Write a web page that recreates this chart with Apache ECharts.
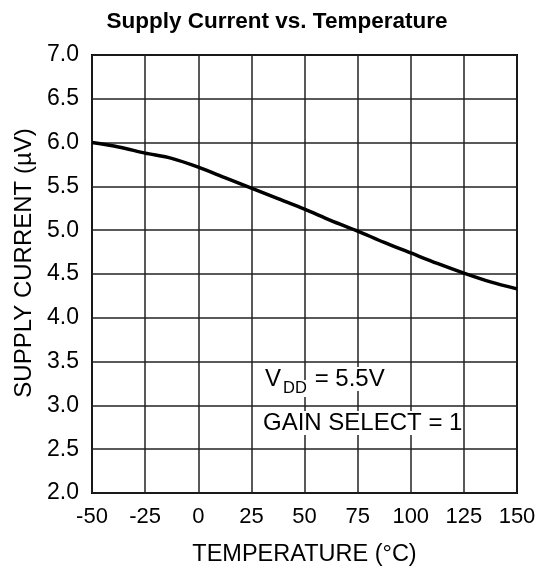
<!DOCTYPE html>
<html>
<head>
<meta charset="utf-8">
<script src="https://cdn.jsdelivr.net/npm/echarts@6/dist/echarts.min.js"></script>
<style>html,body{margin:0;padding:0;background:#fff;}#c{width:543px;height:572px;}</style>
</head>
<body>
<div id="c"></div>
<script>
var temperatures = [-50, -37.5, -25, -12.5, 0, 12.5, 25, 37.5, 50, 62.5, 75, 87.5, 100, 112.5, 125, 137.5, 150];
var supplyCurrent = [6.00, 5.95, 5.88, 5.82, 5.72, 5.60, 5.48, 5.36, 5.24, 5.11, 4.99, 4.86, 4.74, 4.62, 4.51, 4.41, 4.33];
var xTicks = [-50, -25, 0, 25, 50, 75, 100, 125, 150];
var yTicks = [2.0, 2.5, 3.0, 3.5, 4.0, 4.5, 5.0, 5.5, 6.0, 6.5, 7.0];

var FONT = '"Liberation Sans", Arial, sans-serif';
var chart = echarts.init(document.getElementById('c'));
var pts = temperatures.map(function (t, i) { return [t, supplyCurrent[i]]; });

chart.setOption({
  animation: false,
  backgroundColor: '#fff',
  title: {
    text: 'Supply Current vs. Temperature',
    left: 272, top: 5, textAlign: 'center',
    textStyle: { fontFamily: FONT, fontWeight: 'bold', fontSize: 22.5, color: '#000' }
  },
  grid: { left: 92, right: 26, top: 55, bottom: 78, show: true, borderColor: '#000', borderWidth: 2, backgroundColor: 'transparent' },
  xAxis: {
    type: 'value', min: xTicks[0], max: xTicks[xTicks.length - 1], interval: 25,
    name: 'TEMPERATURE (°C)', nameLocation: 'middle', nameGap: 50,
    nameTextStyle: { fontFamily: FONT, fontSize: 23.5, color: '#000' },
    axisLine: { show: false }, axisTick: { show: false },
    axisLabel: { fontFamily: FONT, fontSize: 22, color: '#000', margin: 13 },
    splitLine: { show: true, lineStyle: { color: '#222', width: 1.5 } }
  },
  yAxis: {
    type: 'value', min: yTicks[0], max: yTicks[yTicks.length - 1], interval: 0.5,
    name: 'SUPPLY CURRENT (µV)', nameLocation: 'middle', nameGap: 56, nameRotate: 90,
    nameTextStyle: { fontFamily: FONT, fontSize: 24, color: '#000', padding: [0, 0, 0, 22] },
    axisLine: { show: false }, axisTick: { show: false },
    axisLabel: { fontFamily: FONT, fontSize: 23, color: '#000', margin: 13, formatter: function (v) { return v.toFixed(1); } },
    splitLine: { show: true, lineStyle: { color: '#222', width: 1.5 } }
  },
  series: [{
    type: 'line', data: pts, showSymbol: false, smooth: 0.3,
    lineStyle: { color: '#000', width: 3.5 }, z: 5
  }],
  graphic: [
    { type: 'text', left: 265, top: 367, z: 10,
      style: { text: 'V', fontFamily: FONT, fontSize: 24, fill: '#000', backgroundColor: '#fff' } },
    { type: 'text', left: 283, top: 380, z: 10,
      style: { text: 'DD', fontFamily: FONT, fontSize: 16.5, fill: '#000', backgroundColor: '#fff' } },
    { type: 'text', left: 308, top: 367, z: 10,
      style: { text: ' = 5.5V', fontFamily: FONT, fontSize: 24, fill: '#000', backgroundColor: '#fff' } },
    { type: 'text', left: 263, top: 411, z: 10,
      style: { text: 'GAIN SELECT = 1', fontFamily: FONT, fontSize: 24, fill: '#000', backgroundColor: '#fff' } }
  ]
});
</script>
</body>
</html>
